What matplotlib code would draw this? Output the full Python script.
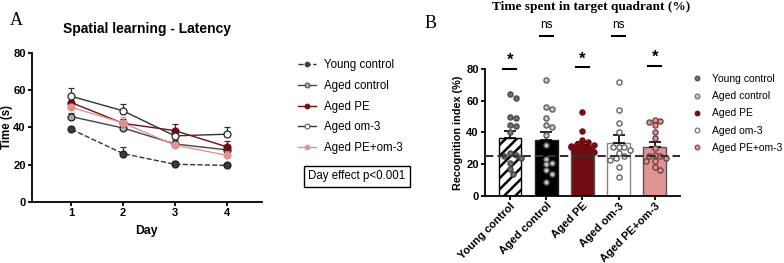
import numpy as np
import matplotlib
matplotlib.use("Agg")
import matplotlib.pyplot as plt
from matplotlib.lines import Line2D

plt.rcParams['font.family'] = ['Liberation Sans', 'DejaVu Sans']
plt.rcParams['hatch.linewidth'] = 1.8

# ---------------- data ----------------
groups = ["Young control", "Aged control", "Aged PE", "Aged om-3", "Aged PE+om-3"]
days = [1, 2, 3, 4]
lat_young = [38.9, 25.9, 20.2, 19.6]
lat_aged = [45.7, 39.6, 31.1, 27.9]
lat_pe = [53.2, 42.1, 38.2, 29.6]
lat_om3 = [56.6, 48.8, 35.4, 36.3]
lat_peom3 = [50.7, 42.3, 30.5, 25.0]
err_young = [1.2, 3.5, 1.8, 1.5]
err_aged = [2.0, 2.5, 2.0, 2.0]
err_pe = [2.5, 2.5, 3.6, 3.0]
err_om3 = [4.3, 3.7, 2.5, 3.9]
err_peom3 = [2.5, 3.4, 2.0, 2.5]

bar_means = [36.4, 35.3, 32.0, 33.2, 30.9]
bar_sem = [4.5, 5.0, 2.3, 5.0, 3.0]
pts_young = [64, 61.5, 49.5, 49, 44.5, 44, 40, 27, 26, 25, 24, 20.5, 17, 14]
pts_aged = [72.8, 56, 55, 49, 43.5, 44.7, 38.5, 32, 23.3, 20.6, 20, 16.5, 13.8, 8.7]
pts_pe = [53, 41, 35.5, 34, 33, 32, 32, 31.5, 31, 30, 29, 28, 28, 11]
pts_om3 = [72, 54, 46, 40, 31, 31, 31, 29, 27, 25, 24, 22.5, 18.5, 12]
pts_peom3 = [48, 47, 46.5, 44.5, 40.5, 36.5, 30, 25.5, 25, 25, 24, 22, 22, 18.5, 16.5]
chance_level = 25
sig_labels = ["*", "ns", "*", "ns", "*"]
sig_heights = [80, 101, 81, 101, 82]

# ---------------- style ----------------
c_dred = "#6f0d12"
c_pink = "#e09393"
c_lgray = "#c4c4c4"

fig = plt.figure(figsize=(7.84, 2.63), dpi=100)

# ---------------- panel A ----------------
axA = fig.add_axes([0.0404, 0.232, 0.2934, 0.568])
series = [
    (lat_young, err_young, "Young control", "#333333", "--", "#3a3a3a"),
    (lat_aged, err_aged, "Aged control", "#444444", "-", "#a8a8a8"),
    (lat_pe, err_pe, "Aged PE", c_dred, "-", c_dred),
    (lat_om3, err_om3, "Aged om-3", "#333333", "-", "white"),
    (lat_peom3, err_peom3, "Aged PE+om-3", c_pink, "-", c_pink),
]
handles = []
for vals, err, lab, lc, ls, mfc in series:
    mec = mfc if mfc in (c_pink, c_dred) else "#222222"
    axA.errorbar(days, vals, yerr=[np.zeros(len(err)), err], color=lc, ls=ls,
                 lw=1.0, marker="o", ms=5, mfc=mfc, mec=mec,
                 mew=0.9, capsize=2.5, elinewidth=0.9, capthick=0.9)
    handles.append(Line2D([0], [0], color=lc, ls=ls, lw=1.0, marker="o", ms=3.5,
                          mfc=mfc, mec=mfc if mfc in (c_pink, c_dred) else "#444444", mew=0.7))
axA.set_xlim(0.23, 4.68)
axA.set_ylim(0, 80)
axA.set_xticks(days)
axA.set_yticks([0, 20, 40, 60, 80])
for s in ["top", "right"]:
    axA.spines[s].set_visible(False)
for s in ["left", "bottom"]:
    axA.spines[s].set_linewidth(1.3)
axA.tick_params(width=1.3, length=3, labelsize=8.0, pad=1.2)
for t in axA.get_xticklabels() + axA.get_yticklabels():
    t.set_fontweight("bold")
axA.set_xlabel("Day", fontsize=8.8, fontweight="bold", labelpad=5)
axA.set_ylabel("Time (s)", fontsize=8.3, fontweight="bold")
axA.yaxis.set_label_coords(-0.08, 0.5)
axA.set_title("Spatial learning - Latency", fontsize=10, fontweight="bold", pad=14)
fig.text(0.012, 0.905, "A", fontsize=13, family="Liberation Serif")

fig.legend(handles, groups, loc="upper left", bbox_to_anchor=(0.374, 0.792),
           frameon=False, fontsize=8.3, handlelength=1.6, handletextpad=0.65,
           labelspacing=0.75, borderaxespad=0)
fig.text(0.455, 0.33, "Day effect p<0.001", fontsize=8.3, ha="center", va="center",
         bbox=dict(boxstyle="square,pad=0.4", fc="white", ec="black", lw=1.0))

# ---------------- panel B ----------------
axB = fig.add_axes([0.6186, 0.255, 0.2484, 0.4826])
x = np.arange(len(groups))
bar_fc = ["white", "black", c_dred, "white", c_pink]
bar_ec = ["black", "#222222", "#555555", "#888888", "#555555"]
hatches = ["///", None, None, None, None]
bw = 0.63
for i in range(len(groups)):
    axB.bar(x[i], bar_means[i], width=bw, color=bar_fc[i], edgecolor=bar_ec[i],
            hatch=hatches[i], lw=1.0, zorder=1)
axB.errorbar(x, bar_means, yerr=[np.zeros(5), bar_sem], fmt="none", ecolor="black",
             elinewidth=1.2, capsize=4.5, capthick=1.2, zorder=2)

pt_sets = [pts_young, pts_aged, pts_pe, pts_om3, pts_peom3]
pt_fc = ["#6e6e6e", c_lgray, c_dred, "white", c_pink]
pt_ec = ["#444444", "#555555", c_dred, "#555555", "#6a3a3a"]

# simple beeswarm in pixel space
xs_per_px = (4.69 + 0.69) / 195.0
ys_per_px = 80 / 127.0
diam = 5.2
def swarm(vals, center):
    placed = []
    order = np.argsort(vals)[::-1]
    out = np.zeros(len(vals))
    for idx in order:
        v = vals[idx]
        for k in [0, 1, -1, 2, -2, 3, -3, 4, -4]:
            xo = center + k * diam * 0.55 * xs_per_px
            ok = True
            for (px, py) in placed:
                dx = (xo - px) / xs_per_px
                dy = (v - py) / ys_per_px
                if dx * dx + dy * dy < diam * diam:
                    ok = False
                    break
            if ok:
                break
        placed.append((xo, v))
        out[idx] = xo
    return out

for i, pts in enumerate(pt_sets):
    px = swarm(np.array(pts, float), x[i])
    axB.scatter(px, pts, s=14, facecolor=pt_fc[i], edgecolor=pt_ec[i], lw=0.9, zorder=3)

axB.axhline(chance_level, color="#333333", ls=(0, (4, 2)), lw=1.5, zorder=4)

for i, (lab, h) in enumerate(zip(sig_labels, sig_heights)):
    axB.plot([x[i] - 0.18, x[i] + 0.18], [h, h], color="black", lw=1.5, clip_on=False)
    if lab == "*":
        axB.text(x[i], h + 0.5, lab, ha="center", va="bottom", fontsize=12, fontweight="bold")
    else:
        axB.text(x[i], h + 3, lab, ha="center", va="bottom", fontsize=8.5)

axB.set_xlim(-0.69, 4.69)
axB.set_ylim(0, 80)
axB.set_yticks([0, 20, 40, 60, 80])
axB.set_xticks(x)
axB.set_xticklabels(groups, rotation=45, ha="right", rotation_mode="anchor",
                    fontsize=6.6, fontweight="bold")
for t in axB.get_yticklabels():
    t.set_fontweight("bold")
for s in ["top", "right"]:
    axB.spines[s].set_visible(False)
for s in ["left", "bottom"]:
    axB.spines[s].set_linewidth(1.3)
axB.tick_params(width=1.3, length=3, labelsize=8, pad=1.5)
axB.tick_params(axis="x", pad=0.5)
axB.set_ylabel("Recognition index (%)", fontsize=7.8, fontweight="bold", labelpad=2)
fig.text(0.754, 0.997, "Time spent in target quadrant (%)", fontsize=9.6,
         fontweight="bold", family="Liberation Serif", ha="center", va="top")
fig.text(0.542, 0.895, "B", fontsize=13, family="Liberation Serif")

handlesB = [Line2D([0], [0], ls="none", marker="o", ms=3.5, mfc=fc, mec=ec, mew=0.7)
            for fc, ec in zip(pt_fc, pt_ec)]
fig.legend(handlesB, groups, loc="upper left", bbox_to_anchor=(0.879, 0.735),
           frameon=False, fontsize=7.5, handlelength=0.8, handletextpad=1.0,
           labelspacing=0.7, borderaxespad=0)

fig.savefig("out.png", dpi=100)
